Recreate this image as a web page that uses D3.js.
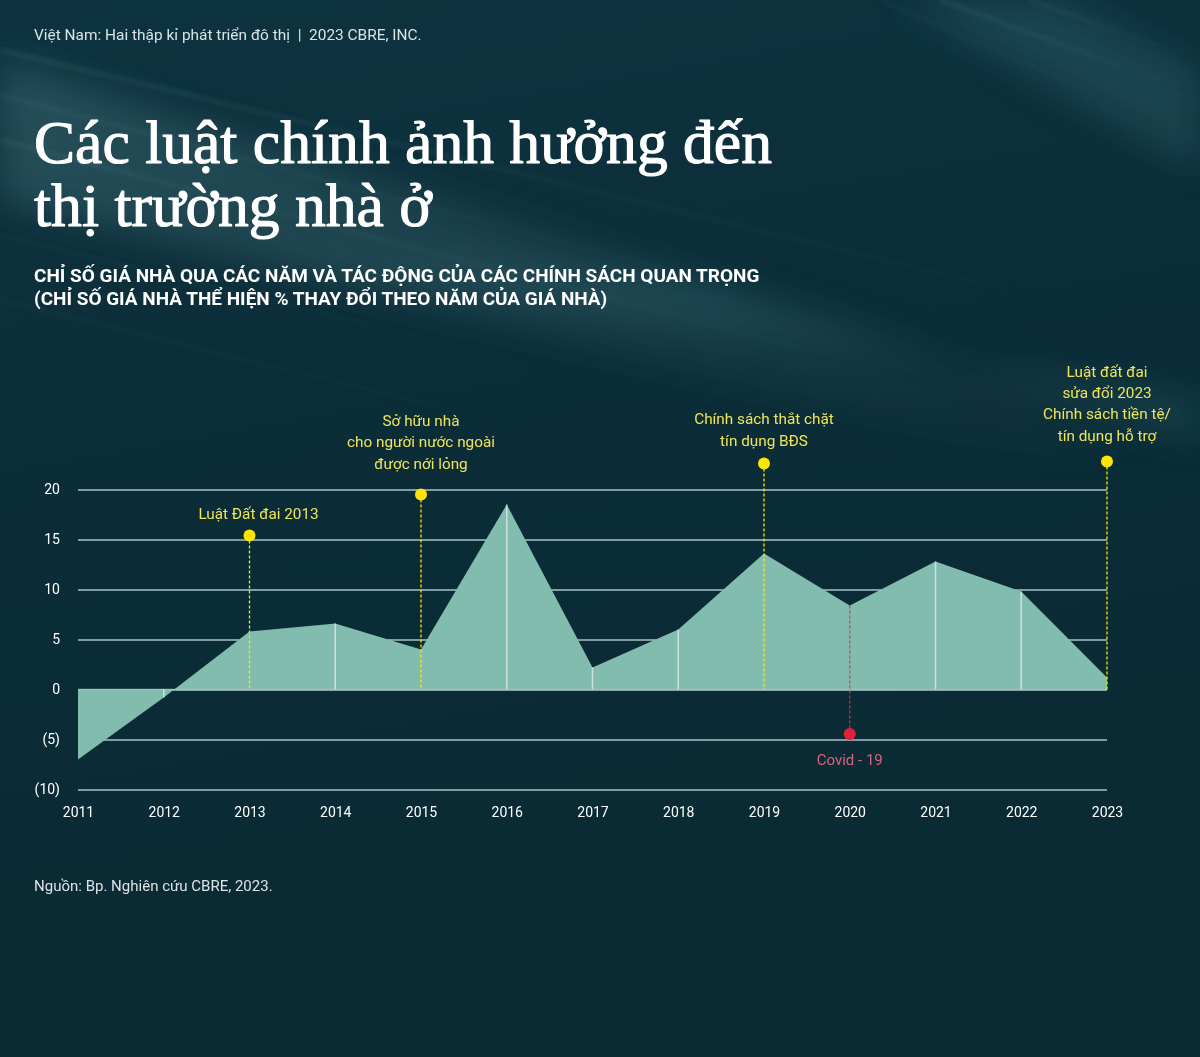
<!DOCTYPE html>
<html><head><meta charset="utf-8">
<script src="https://cdn.jsdelivr.net/npm/d3@7"></script>
<style>html,body{margin:0;padding:0;background:#0b2c37;} svg{display:block;}</style>
</head><body><svg id="c" width="1200" height="1057"></svg>
<script>
// ---- data ----
const years = [2011,2012,2013,2014,2015,2016,2017,2018,2019,2020,2021,2022,2023];
const priceIndex = [-7.0,-0.8,5.8,6.6,4.0,18.5,2.2,6.0,13.6,8.4,12.8,9.8,1.2];
const yTicks = [-10,-5,0,5,10,15,20];
const policyYears = [2013,2015,2019,2023];
const policyLevels = [15.4,19.5,22.6,22.8];
const policyLabels = [
  ["Luật Đất đai 2013"],
  ["Sở hữu nhà","cho người nước ngoài","được nới lỏng"],
  ["Chính sách thắt chặt","tín dụng BĐS"],
  ["Luật đất đai","sửa đổi 2023","Chính sách tiền tệ/","tín dụng hỗ trợ"]
];
const shockYears = [2020];
const shockLevels = [-4.45];
const shockLabels = ["Covid - 19"];
const headerText = "Việt Nam: Hai thập kỉ phát triển đô thị  |  2023 CBRE, INC.";
const titleLines = ["Các luật chính ảnh hưởng đến","thị trường nhà ở"];
const subtitleLines = ["CHỈ SỐ GIÁ NHÀ QUA CÁC NĂM VÀ TÁC ĐỘNG CỦA CÁC CHÍNH SÁCH QUAN TRỌNG","(CHỈ SỐ GIÁ NHÀ THỂ HIỆN % THAY ĐỔI THEO NĂM CỦA GIÁ NHÀ)"];
const sourceText = "Nguồn: Bp. Nghiên cứu CBRE, 2023.";

// ---- setup ----
const svg = d3.select("#c");
const W = 1200, H = 1057;
const defs = svg.append("defs");

// background
const bg = defs.append("linearGradient").attr("id","bg").attr("x1",0).attr("y1",0).attr("x2",0.2).attr("y2",1);
bg.append("stop").attr("offset",0).attr("stop-color","#0e3340");
bg.append("stop").attr("offset",0.45).attr("stop-color","#0b2d38");
bg.append("stop").attr("offset",1).attr("stop-color","#0a2a33");
svg.append("rect").attr("width",W).attr("height",H).attr("fill","url(#bg)");

const blurS = defs.append("filter").attr("id","blurS").attr("x","-10%").attr("y","-50%").attr("width","120%").attr("height","200%");
blurS.append("feGaussianBlur").attr("stdDeviation",2.5);
const blurL = defs.append("filter").attr("id","blurL").attr("x","-20%").attr("y","-50%").attr("width","140%").attr("height","200%");
blurL.append("feGaussianBlur").attr("stdDeviation",18);
const rayG = defs.append("linearGradient").attr("id","ray").attr("x1",0).attr("y1",0).attr("x2",1).attr("y2",0);
rayG.append("stop").attr("offset",0).attr("stop-color","#8cc7cc").attr("stop-opacity",0.55);
rayG.append("stop").attr("offset",0.55).attr("stop-color","#8cc7cc").attr("stop-opacity",0.25);
rayG.append("stop").attr("offset",1).attr("stop-color","#8cc7cc").attr("stop-opacity",0);

// broad glow bands
const glow = svg.append("g").attr("filter","url(#blurL)");
glow.append("path").attr("d","M0,60 L0,200 L1100,470 L1150,420 Z").attr("fill","url(#ray)").attr("opacity",0.35);
glow.append("path").attr("d","M250,250 L700,280 L1200,440 L1200,400 Z").attr("fill","#3d7a82").attr("opacity",0.25);
glow.append("path").attr("d","M900,0 L1060,0 L1200,70 L1200,170 Z").attr("fill","#4d8d95").attr("opacity",0.22);
// thin rays
const thin = svg.append("g").attr("filter","url(#blurS)");
const rayLines = [[0,50,1200,335,2.5,0.35],[0,95,900,330,2,0.3],[0,140,1000,400,3,0.25],[0,235,800,430,2,0.22],[0,300,700,470,2,0.18],[940,0,1200,95,2.5,0.35],[1030,0,1200,60,2,0.3],[880,0,1200,140,2,0.18]];
thin.selectAll("line").data(rayLines).join("line")
  .attr("x1",d=>d[0]).attr("y1",d=>d[1]).attr("x2",d=>d[2]).attr("y2",d=>d[3])
  .attr("stroke","url(#ray)").attr("stroke-width",d=>d[4]).attr("opacity",d=>d[5]);

// ---- texts ----
function fit(sel, target){
  const n = sel.node(); const fs = parseFloat(sel.attr("font-size"));
  const len = n.getComputedTextLength();
  sel.attr("font-size", fs*target/len);
  return fs*target/len;
}
svg.append("text").attr("x",34).attr("y",40).attr("font-family","Roboto, 'Liberation Sans', sans-serif")
  .attr("font-size",14).attr("fill","#dbe3e5").attr("xml:space","preserve").text(headerText)
  .call(s=>fit(s,388));

const titleStyle = s => s.attr("font-family","'Liberation Serif', serif").attr("fill","#ffffff")
  .attr("stroke","#ffffff").attr("stroke-width",1.1).attr("stroke-linejoin","round");
const t1 = svg.append("text").attr("x",34).attr("y",163).attr("font-size",58).call(titleStyle).text(titleLines[0]);
const tfs = fit(t1, 738);
svg.append("text").attr("x",34).attr("y",226).attr("font-size",tfs).call(titleStyle).text(titleLines[1]);

const s1 = svg.append("text").attr("x",34).attr("y",282).attr("font-family","Roboto, sans-serif").attr("font-weight",700)
  .attr("font-size",17).attr("fill","#ffffff").text(subtitleLines[0]);
const sfs = fit(s1, 726);
svg.append("text").attr("x",34).attr("y",305).attr("font-family","Roboto, sans-serif").attr("font-weight",700)
  .attr("font-size",sfs).attr("fill","#ffffff").text(subtitleLines[1]);

svg.append("text").attr("x",34).attr("y",891).attr("font-family","Roboto, 'Liberation Sans', sans-serif")
  .attr("font-size",14).attr("fill","#dbe3e5").text(sourceText).call(s=>fit(s,239));

// ---- chart ----
const x = d3.scaleLinear().domain([2011,2023]).range([78,1107]);
const y = d3.scaleLinear().domain([-10,20]).range([789.5,489.5]);
const data = years.map((yr,i)=>({year:yr, v:priceIndex[i]}));
const gridCol = "#a9c3c7";

// gridlines
svg.append("g").attr("transform","translate(78,0)")
  .call(d3.axisLeft(y).tickValues(yTicks).tickSize(-(1107-78)).tickFormat(""))
  .call(g=>g.select(".domain").remove())
  .call(g=>g.selectAll(".tick line").attr("stroke",gridCol).attr("stroke-width",1.5));

// area
svg.append("path").datum(data)
  .attr("d", d3.area().x(d=>x(d.year)).y0(y(0)).y1(d=>y(d.v)))
  .attr("fill","#82bcae");

// zero line on top
svg.append("line").attr("x1",78).attr("x2",1107).attr("y1",y(0)).attr("y2",y(0))
  .attr("stroke",gridCol).attr("stroke-width",1.5).attr("opacity",0.8);

// year lines inside area
const marked = new Set([...policyYears, ...shockYears, 2011, 2023]);
svg.append("g").selectAll("line").data(data.filter(d=>!marked.has(d.year))).join("line")
  .attr("x1",d=>x(d.year)).attr("x2",d=>x(d.year)).attr("y1",y(0)).attr("y2",d=>y(d.v))
  .attr("stroke","#e4efec").attr("stroke-width",1.5).attr("opacity",0.75);

// y axis labels
svg.append("g").attr("transform","translate(78,0)")
  .call(d3.axisLeft(y).tickValues(yTicks).tickSize(0).tickPadding(18).tickFormat(v=>v<0?`(${-v})`:String(v)))
  .call(g=>g.select(".domain").remove())
  .call(g=>g.selectAll("text").attr("fill","#ffffff").attr("font-size",14).attr("font-family","Roboto, sans-serif"));

// x axis labels
svg.append("g").attr("transform",`translate(0,${y(-10)})`)
  .call(d3.axisBottom(x).tickValues(years).tickSize(0).tickPadding(18).tickFormat(d3.format("d")))
  .call(g=>g.select(".domain").remove())
  .call(g=>g.selectAll("text").attr("fill","#ffffff").attr("font-size",14).attr("font-family","Roboto, sans-serif"));

// policy annotations
const yellow = "#ffe600", labelYellow = "#efe45a";
const labelGap = [17, 26, 18, 21];
const labelDx = [9, 0, 0, 0];
policyYears.forEach((yr,i)=>{
  const px = x(yr), py = y(policyLevels[i]);
  svg.append("line").attr("x1",px).attr("x2",px).attr("y1",py).attr("y2",y(0))
    .attr("stroke",yellow).attr("stroke-width",1.3).attr("stroke-dasharray","3,2");
  svg.append("circle").attr("cx",px).attr("cy",py).attr("r",6).attr("fill",yellow);
  const lines = policyLabels[i];
  const base = py - labelGap[i];
  svg.append("g").selectAll("text").data(lines).join("text")
    .attr("x",px+labelDx[i]).attr("y",(d,j)=>base-(lines.length-1-j)*21.3)
    .attr("text-anchor","middle").attr("font-family","Roboto, sans-serif").attr("font-size",15.3)
    .attr("fill",labelYellow).text(d=>d);
});

// shock annotation
shockYears.forEach((yr,i)=>{
  const px = x(yr), py = y(shockLevels[i]);
  const v = priceIndex[years.indexOf(yr)];
  svg.append("line").attr("x1",px).attr("x2",px).attr("y1",y(v)).attr("y2",py)
    .attr("stroke","#e0304a").attr("stroke-width",1.3).attr("stroke-dasharray","3,2").attr("opacity",0.9);
  svg.append("circle").attr("cx",px).attr("cy",py).attr("r",6).attr("fill","#e3203c");
  svg.append("text").attr("x",px).attr("y",py+31).attr("text-anchor","middle")
    .attr("font-family","Roboto, sans-serif").attr("font-size",15).attr("fill","#d9637c").text(shockLabels[i]);
});
</script></body></html>
